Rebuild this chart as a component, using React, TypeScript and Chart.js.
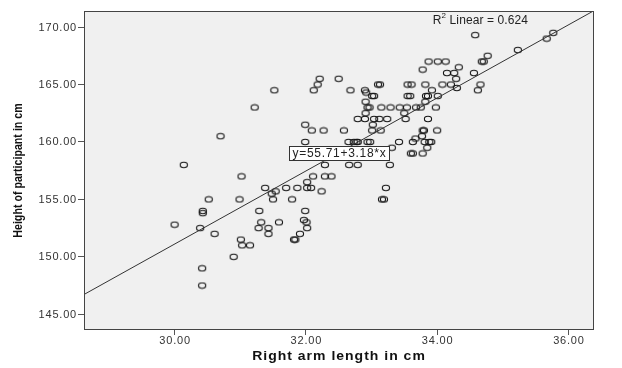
import React, { useEffect, useRef } from "react";
import { Chart, registerables } from "chart.js";

Chart.register(...registerables);

// Right arm length (cm) of each participant
const armLength = [
  30.0, 30.14, 30.39, 30.43, 30.43, 30.42, 30.42, 30.52, 30.61, 30.7,
  30.9, 30.99, 31.02, 31.01, 31.03, 31.15, 31.22, 31.28, 31.29, 31.32,
  31.38, 31.43, 31.43, 31.48, 31.5, 31.52, 31.54, 31.59, 31.7, 31.79,
  31.82, 31.84, 31.87, 31.91, 31.99, 31.99, 31.99, 31.97, 32.01, 32.02,
  32.02, 32.02, 32.08, 32.09, 32.11, 32.12, 32.18, 32.21, 32.24, 32.27,
  32.29, 32.29, 32.39, 32.5, 32.58, 32.65, 32.66, 32.68, 32.73, 32.77,
  32.79, 32.79, 32.79, 32.9, 32.91, 32.92, 32.91, 32.9, 32.94, 32.97,
  32.94, 32.98, 33.01, 33.04, 33.02, 33.04, 33.01, 33.1, 33.13, 33.12,
  33.14, 33.15, 33.16, 33.19, 33.22, 33.24, 33.28, 33.29, 33.31, 33.42,
  33.43, 33.5, 33.52, 33.54, 33.55, 33.55, 33.59, 33.61, 33.6, 33.63,
  33.63, 33.67, 33.68, 33.75, 33.78, 33.77, 33.78, 33.8, 33.78, 33.81,
  33.82, 33.82, 33.83, 33.86, 33.85, 33.86, 33.87, 33.88, 33.91, 33.92,
  33.98, 34.0, 34.01, 34.01, 34.08, 34.13, 34.15, 34.21, 34.26, 34.29,
  34.3, 34.33, 34.56, 34.58, 34.62, 34.66, 34.68, 34.71, 34.77, 35.23,
  35.67, 35.77,
];

// Height (cm) of each participant, same order as armLength
const height = [
  152.8, 158.0, 152.5, 154.0, 153.8, 149.0, 147.5, 155.0, 152.0, 160.5,
  150.0, 155.0, 157.0, 151.5, 151.0, 151.0, 163.0, 152.5, 154.0, 153.0,
  156.0, 152.5, 152.0, 155.5, 155.0, 164.5, 155.7, 153.0, 156.0, 155.0,
  151.5, 151.5, 156.0, 152.0, 161.5, 160.0, 154.0, 153.2, 153.0, 152.5,
  156.5, 156.0, 156.0, 161.0, 157.0, 164.5, 165.0, 165.5, 155.7, 161.0,
  158.0, 157.0, 157.0, 165.5, 161.0, 160.0, 158.0, 164.5, 160.0, 160.0,
  160.0, 162.0, 158.0, 164.5, 163.5, 164.3, 162.5, 162.0, 163.0, 163.0,
  160.0, 160.0, 164.0, 164.0, 161.5, 162.0, 161.0, 165.0, 165.0, 162.0,
  161.0, 163.0, 155.0, 155.0, 156.0, 162.0, 158.0, 163.0, 159.5, 160.0,
  163.0, 162.5, 162.0, 163.0, 165.0, 164.0, 164.0, 165.0, 159.0, 159.0,
  160.0, 160.3, 163.0, 163.0, 166.3, 160.5, 161.0, 161.0, 159.0, 160.0,
  165.0, 163.5, 164.0, 164.0, 159.5, 162.0, 167.0, 160.0, 160.0, 164.5,
  163.0, 161.0, 167.0, 164.0, 165.0, 167.0, 166.0, 165.0, 166.0, 165.5,
  164.7, 166.5, 166.0, 169.3, 164.5, 165.0, 167.0, 167.0, 167.5, 168.0,
  169.0, 169.5,
];

const xTickValues = [30, 32, 34, 36];
const yTickValues = [145, 150, 155, 160, 165, 170];

const X_MIN = 28.62;
const X_MAX = 36.39;
const Y_MIN = 143.63;
const Y_MAX = 171.4;

// Linear fit
const INTERCEPT = 55.71;
const SLOPE = 3.18;
const FIT_LABEL = "y=55.71+3.18*x";
const FIT_LABEL_AT = { x: 31.75, y: 159.05 };
const R2_VALUE = "0.624";
const R2_LABEL_AT = { x: 34.66, y: 170.6 };

const X_TITLE = "Right arm length in cm";
const Y_TITLE = "Height of participant in cm";

const FONT = "Arial, 'Liberation Sans', sans-serif";

function makeMarker(): HTMLCanvasElement {
  const c = document.createElement("canvas");
  c.width = 10;
  c.height = 8;
  const g = c.getContext("2d")!;
  g.strokeStyle = "#151515";
  g.lineWidth = 1.1;
  g.beginPath();
  g.ellipse(5, 4, 3.6, 2.7, 0, 0, Math.PI * 2);
  g.stroke();
  return c;
}

const fmt = (v: number) => v.toFixed(2);

const decorPlugin = {
  id: "spssDecor",
  beforeDraw(chart: any) {
    const { ctx, chartArea: a } = chart;
    ctx.save();
    ctx.fillStyle = "#ffffff";
    ctx.fillRect(0, 0, chart.width, chart.height);
    ctx.fillStyle = "#f0f0f0";
    ctx.fillRect(a.left, a.top, a.right - a.left, a.bottom - a.top);
    ctx.restore();
  },
  afterDraw(chart: any) {
    const { ctx, chartArea: a, scales } = chart;
    const xs = scales.x;
    const ys = scales.y;
    ctx.save();
    // frame
    ctx.strokeStyle = "#444";
    ctx.lineWidth = 1;
    ctx.strokeRect(
      Math.round(a.left) + 0.5,
      Math.round(a.top) + 0.5,
      Math.round(a.right - a.left) - 1,
      Math.round(a.bottom - a.top) - 1
    );

    // tick labels
    ctx.fillStyle = "#333";
    ctx.font = `11px ${FONT}`;
    (ctx as any).letterSpacing = "0.8px";
    ctx.textBaseline = "middle";
    ctx.textAlign = "right";
    for (const v of yTickValues) {
      ctx.fillText(fmt(v), a.left - 7, ys.getPixelForValue(v) + 0.5);
    }
    ctx.textAlign = "center";
    for (const v of xTickValues) {
      ctx.fillText(fmt(v), xs.getPixelForValue(v) + 0.5, a.bottom + 11);
    }

    // fit label box
    ctx.font = `12px ${FONT}`;
    (ctx as any).letterSpacing = "0.7px";
    const tw = ctx.measureText(FIT_LABEL).width;
    const bx = Math.round(xs.getPixelForValue(FIT_LABEL_AT.x)) + 0.5;
    const bcy = ys.getPixelForValue(FIT_LABEL_AT.y);
    const bw = Math.round(tw + 6);
    const bh = 14;
    const by = Math.round(bcy - bh / 2) + 0.5;
    ctx.fillStyle = "#ffffff";
    ctx.fillRect(bx, by, bw, bh);
    ctx.strokeStyle = "#333";
    ctx.strokeRect(bx, by, bw, bh);
    ctx.fillStyle = "#222";
    ctx.textBaseline = "middle";
    ctx.textAlign = "left";
    ctx.fillText(FIT_LABEL, bx + 3, by + bh / 2 + 0.5);

    // R² label
    ctx.font = `12px ${FONT}`;
    (ctx as any).letterSpacing = "0.1px";
    const rest = ` Linear = ${R2_VALUE}`;
    const wR = ctx.measureText("R").width;
    const wRest = ctx.measureText(rest).width;
    ctx.font = `8px ${FONT}`;
    const wSup = ctx.measureText("2").width;
    const total = wR + wSup + wRest;
    const cx = xs.getPixelForValue(R2_LABEL_AT.x);
    const cy = ys.getPixelForValue(R2_LABEL_AT.y);
    let sx = cx - total / 2;
    ctx.fillStyle = "#222";
    ctx.font = `12px ${FONT}`;
    ctx.fillText("R", sx, cy);
    sx += wR;
    ctx.font = `8px ${FONT}`;
    ctx.fillText("2", sx, cy - 4);
    sx += wSup;
    ctx.font = `12px ${FONT}`;
    ctx.fillText(rest, sx, cy);

    // x title
    ctx.fillStyle = "#111";
    ctx.textAlign = "center";
    ctx.textBaseline = "middle";
    ctx.font = `bold 14px ${FONT}`;
    (ctx as any).letterSpacing = "1px";
    ctx.save();
    ctx.translate((a.left + a.right) / 2, 357);
    ctx.scale(1, 0.85);
    ctx.fillText(X_TITLE, 0, 0);
    ctx.restore();

    // y title
    (ctx as any).letterSpacing = "0px";
    ctx.save();
    ctx.translate(18, (a.top + a.bottom) / 2);
    ctx.rotate(-Math.PI / 2);
    ctx.scale(0.82, 1);
    ctx.font = `bold 13px ${FONT}`;
    ctx.fillText(Y_TITLE, 0, 0);
    ctx.restore();

    ctx.restore();
  },
};

export default function App() {
  const ref = useRef<HTMLCanvasElement | null>(null);

  useEffect(() => {
    if (!ref.current) return;
    const marker = makeMarker();
    const points = armLength.map((x, i) => ({ x, y: height[i] }));
    const fitLine = [X_MIN, X_MAX].map((x) => ({ x, y: INTERCEPT + SLOPE * x }));

    const chart = new Chart(ref.current, {
      type: "scatter",
      data: {
        datasets: [
          {
            label: "Height",
            data: points,
            pointStyle: marker as any,
            pointRadius: 4,
            borderColor: "#222",
            backgroundColor: "transparent",
            order: 2,
          },
          {
            label: "Fit",
            data: fitLine,
            showLine: true,
            borderColor: "#333",
            borderWidth: 1,
            pointRadius: 0,
            order: 1,
          } as any,
        ],
      },
      options: {
        responsive: false,
        animation: false,
        devicePixelRatio: 1,
        layout: { padding: { top: 11, right: 28, left: 0, bottom: 0 } },
        plugins: {
          legend: { display: false },
          tooltip: { enabled: false },
        },
        scales: {
          x: {
            type: "linear",
            min: X_MIN,
            max: X_MAX,
            afterBuildTicks: (s: any) => {
              s.ticks = xTickValues.map((v) => ({ value: v }));
            },
            afterFit: (s: any) => {
              s.height = 38;
            },
            border: { display: false },
            grid: {
              drawOnChartArea: false,
              drawTicks: true,
              tickLength: 5,
              color: "#555",
            },
            ticks: { display: false },
          },
          y: {
            type: "linear",
            min: Y_MIN,
            max: Y_MAX,
            afterBuildTicks: (s: any) => {
              s.ticks = yTickValues.map((v) => ({ value: v }));
            },
            afterFit: (s: any) => {
              s.width = 84;
            },
            border: { display: false },
            grid: {
              drawOnChartArea: false,
              drawTicks: true,
              tickLength: 6,
              color: "#555",
            },
            ticks: { display: false },
          },
        },
      },
      plugins: [decorPlugin],
    });
    return () => chart.destroy();
  }, []);

  return (
    <div style={{ position: "absolute", left: 0, top: 0, width: 622, height: 368, background: "#fff" }}>
      <canvas ref={ref} width={622} height={368} />
    </div>
  );
}
